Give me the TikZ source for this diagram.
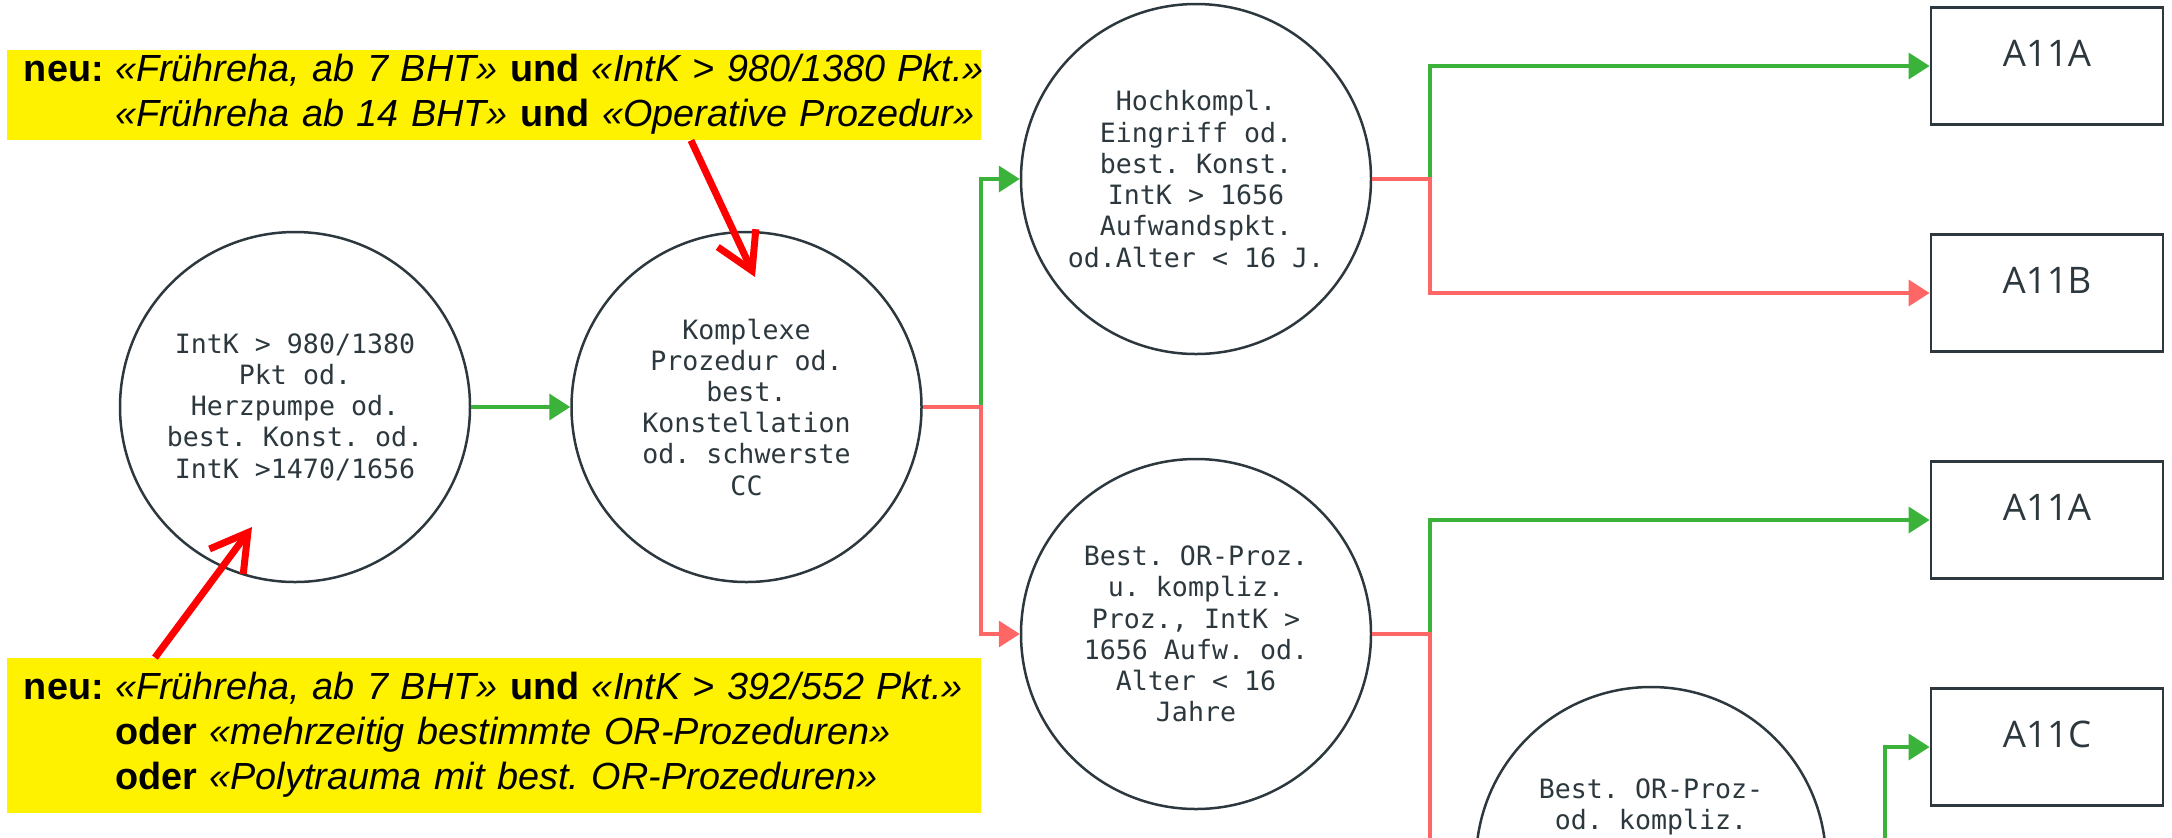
\documentclass[tikz,border=0pt]{standalone}
\usepackage{fontspec}
\setmonofont{DejaVu Sans Mono}
\newfontfamily\notefont{Liberation Sans}
\newfontfamily\drgfont{Open Sans}
\usetikzlibrary{arrows.meta,positioning}
\frenchspacing

\definecolor{ink}{RGB}{44,56,62}
\definecolor{jagreen}{RGB}{59,179,59}
\definecolor{neinred}{RGB}{255,102,102}
\definecolor{hintred}{RGB}{255,0,0}

\begin{document}
\begin{tikzpicture}[
  x=0.5pt,y=-0.5pt,
  node distance=49.5pt,
  mono/.style={align=center,text=ink,font=\ttfamily\fontsize{13.3}{15.6}\selectfont},
  test/.style={mono,circle,draw=ink,line width=1.25pt,minimum size=175pt,inner sep=0pt},
  drg/.style={draw=ink,line width=1.4pt,minimum width=116pt,minimum height=58.5pt,
    text height=12pt,text depth=11.5pt,text=ink,font=\drgfont\fontsize{18.3}{22}\selectfont},
  note/.style={fill=yellow,text width=470pt,inner xsep=8.5pt,inner ysep=0pt,align=left,
    font=\notefont\fontsize{18.9}{22.5}\selectfont},
  ja/.style={draw=jagreen,line width=1.8pt,-{Triangle[length=10.5pt,width=13pt]}},
  nein/.style={draw=neinred,line width=1.8pt,-{Triangle[length=10.5pt,width=13pt]}},
  hint/.style={draw=hintred,line width=3.5pt,-{Straight Barb[length=18pt,width=21pt]}}
]
  \useasboundingbox (0,0) rectangle (2172,837);
  \clip (0,0) rectangle (2172,837);

  % decision circles
  \node[test] (intk) at (295,407) {IntK > 980/1380\\Pkt od.\\Herzpumpe od.\\best. Konst. od.\\IntK >1470/1656};
  \node[test,right=of intk] (komplex) {Komplexe\\Prozedur od.\\best.\\Konstellation\\od. schwerste\\CC};
  \node[test] (hochk) at (1196,179) {Hochkompl.\\Eingriff od.\\best. Konst.\\IntK > 1656\\Aufwandspkt.\\od.Alter < 16 J.};
  \node[test] (orproz) at (1196,634) {Best. OR-Proz.\\u. kompliz.\\Proz., IntK >\\1656 Aufw. od.\\Alter < 16\\Jahre};
  \node[test] (orkompl) at (1651,862) {};
  \node[mono,anchor=north,inner sep=0pt] (orkompltxt) at (1651,778) {Best. OR-Proz-\\od. kompliz.};

  % DRGs
  \node[drg] (a11a) at (2047,66) {A11A};
  \node[drg] (a11b) at (2047,293) {A11B};
  \node[drg] (a11a2) at (2047,520) {A11A};
  \node[drg] (a11c) at (2047,747) {A11C};

  % yes first, no on top
  \draw[ja] (intk) -- (komplex);
  \draw[ja] (komplex.east) -- ++(58,0) |- (hochk.west);
  \draw[ja] (hochk.east) -- ++(58,0) |- (a11a.west);
  \draw[ja] (orproz.east) -- ++(58,0) |- (a11a2.west);
  \draw[ja] (orkompl.east) -- ++(58,0) |- (a11c.west);
  \draw[nein] (komplex.east) -- ++(58,0) |- (orproz.west);
  \draw[nein] (hochk.east) -- ++(58,0) |- (a11b.west);
  \draw[nein] (orproz.east) -- ++(58,0) |- (orkompl.west);

  % notes
  \node[note,minimum height=44pt] (notetop) at (494,95) {%
    \begin{tabular}{@{}l@{\hspace{0.3em}}l@{}}
    \textbf{neu:} & \textit{«Frühreha, ab 7 BHT»} \textbf{und} \textit{«IntK > 980/1380 Pkt.»}\\
     & \textit{«Frühreha ab 14 BHT»} \textbf{und} \textit{«Operative Prozedur»}
    \end{tabular}};
  \node[note,minimum height=77.5pt] (notebot) at (494,735.5) {%
    \begin{tabular}{@{}l@{\hspace{0.3em}}l@{}}
    \textbf{neu:} & \textit{«Frühreha, ab 7 BHT»} \textbf{und} \textit{«IntK > 392/552 Pkt.»}\\
     & \textbf{oder} \textit{«mehrzeitig bestimmte OR-Prozeduren»}\\
     & \textbf{oder} \textit{«Polytrauma mit best. OR-Prozeduren»}
    \end{tabular}};

  \coordinate (hintk) at (755,277);
  \coordinate (hinti) at (252,527);
  \draw[hint] ([xshift=98.5pt]notetop.south) -- (hintk);
  \draw[hint] ([xshift=-169.5pt]notebot.north) -- (hinti);
\end{tikzpicture}
\end{document}
